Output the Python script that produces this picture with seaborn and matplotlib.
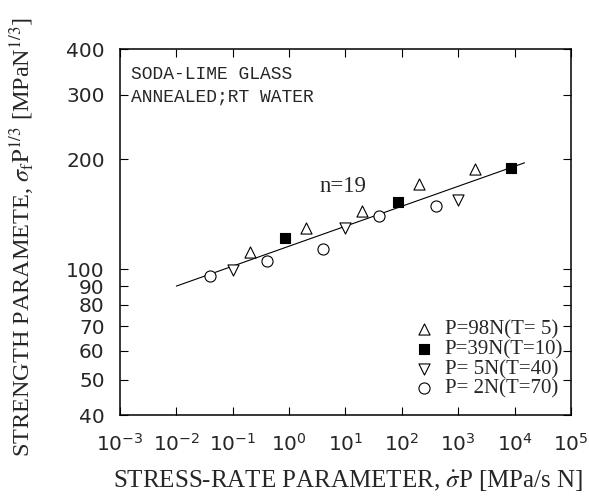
import numpy as np
import pandas as pd
import seaborn as sns
import matplotlib.pyplot as plt

# ==========================================
# DATA
# ==========================================

# P=98N (T=5)   open up-triangles
rate_98 = [0.2, 2.0, 20.0, 200.0, 2000.0]
str_98 = [111.5, 130.0, 144.0, 171.0, 188.0]

# P=39N (T=10)  filled squares
rate_39 = [0.85, 85.0, 8500.0]
str_39 = [122.0, 153.0, 189.0]

# P=5N (T=40)   open down-triangles
rate_5 = [0.1, 10.0, 1000.0]
str_5 = [99.5, 130.0, 155.0]

# P=2N (T=70)   open circles
rate_2 = [0.04, 0.4, 4.0, 40.0, 400.0]
str_2 = [96.0, 105.5, 114.0, 140.0, 149.0]

# regression line, n=19
fit_rate = [1e-2, 1.5e4]
fit_str = [90.0, 195.5]

labels = ["P=98N(T= 5)", "P=39N(T=10)", "P= 5N(T=40)", "P= 2N(T=70)"]

x_ticks = [1e-3, 1e-2, 1e-1, 1e0, 1e1, 1e2, 1e3, 1e4, 1e5]
x_tick_labels = [r"$\mathregular{10^{%d}}$" % e for e in range(-3, 6)]
y_ticks = [40, 50, 60, 70, 80, 90, 100, 200, 300, 400]
y_tick_labels = [str(v) for v in y_ticks]

# ==========================================

sns.set_style("ticks")
plt.rcParams["font.family"] = ["Liberation Serif", "DejaVu Serif"]
plt.rcParams["mathtext.fontset"] = "stix"

fig = plt.figure(figsize=(5.89, 4.96), dpi=100)
ax = fig.add_axes([0.2037, 0.1633, 0.7657, 0.7379])

series = [
    (rate_98, str_98, "^", "white", 8.0),
    (rate_39, str_39, "s", "black", 6.5),
    (rate_5, str_5, "v", "white", 8.0),
    (rate_2, str_2, "o", "white", 8.0),
]

for (xs, ys, m, fc, ms), lab in zip(series, labels):
    df = pd.DataFrame({"rate": xs, "strength": ys})
    sns.scatterplot(data=df, x="rate", y="strength", marker=m, s=ms ** 2,
                    color=fc, edgecolor="black", linewidth=0.8, label=lab,
                    ax=ax, zorder=3)

fit_df = pd.DataFrame({"rate": fit_rate, "strength": fit_str})
sns.lineplot(data=fit_df, x="rate", y="strength", color="black",
             linewidth=0.8, ax=ax, zorder=2)

ax.set_xscale("log")
ax.set_yscale("log")
ax.set_xlim(1e-3, 1e5)
ax.set_ylim(40, 400)

ax.set_xticks(x_ticks)
ax.set_xticklabels(x_tick_labels)
ax.set_yticks(y_ticks)
ax.set_yticklabels(y_tick_labels)
ax.minorticks_off()

ax.tick_params(axis="both", which="major", direction="in", length=6, width=0.8,
               top=True, right=True, pad=11, labelsize=14.5, color="black")
ax.tick_params(axis="x", pad=13)
for t in ax.get_xticklabels() + ax.get_yticklabels():
    t.set_fontfamily("DejaVu Sans")

for sp in ax.spines.values():
    sp.set_linewidth(1.1)
    sp.set_color("black")

ax.set_xlabel(r"STRESS-RATE PARAMETER, $\dot{\sigma}$P [MPa/s N]", fontsize=18)
ax.set_ylabel(r"STRENGTH PARAMETE, $\sigma_{\rm f}{\rm P}^{1/3}$ [MPaN$^{1/3}$]",
              fontsize=17.5)
ax.xaxis.set_label_coords(0.505, -0.145)
ax.yaxis.set_label_coords(-0.185, 0.485)

ax.text(0.024, 0.929, "SODA-LIME GLASS", transform=ax.transAxes,
        fontsize=13, family="Liberation Mono", va="center", ha="left")
ax.text(0.024, 0.869, "ANNEALED;RT WATER", transform=ax.transAxes,
        fontsize=13, family="Liberation Mono", va="center", ha="left")
ax.text(3.5, 168, "n=19", fontsize=16.5, va="center", ha="left")

leg = ax.legend(loc="lower right", bbox_to_anchor=(1.015, 0.005), frameon=False,
                fontsize=15, scatterpoints=1, handlelength=1.0,
                handletextpad=0.5, labelspacing=0.0, borderaxespad=0.3)

plt.savefig("out.png", dpi=100)
